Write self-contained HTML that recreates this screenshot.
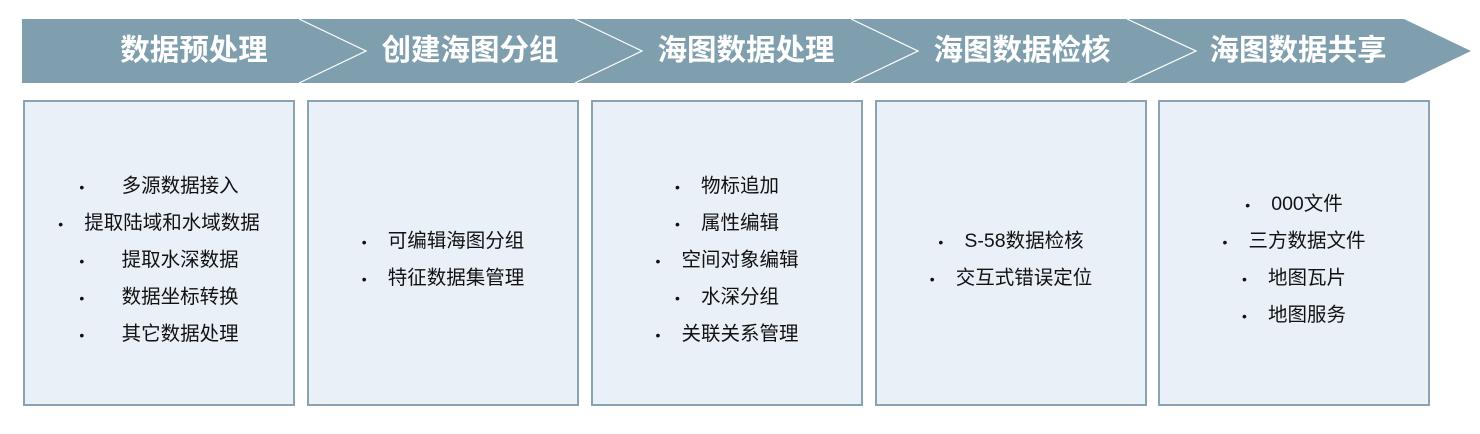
<!DOCTYPE html>
<html><head><meta charset="utf-8"><style>
body{margin:0;width:1480px;height:434px;background:#fff;position:relative;overflow:hidden;font-family:"Liberation Sans","Noto Sans CJK SC",sans-serif}
.t{position:absolute;top:29px;height:44px;line-height:44px;color:#fff;font-weight:bold;font-size:29.5px;text-align:center}
.b{position:absolute;top:100px;width:268px;border:2px solid #8aa3b3;background:#eaf0f8;display:flex;flex-direction:column;justify-content:center;align-items:center;box-sizing:content-box;padding-top:14px;height:288px}
.b div{font-size:19.5px;line-height:36px;color:#111;white-space:nowrap}
.b div:before{content:"•";display:inline-block;width:26px;font-size:14px;text-align:left}
</style></head><body>
<svg width="1480" height="100" style="position:absolute;left:0;top:0">
<polygon points="22,19 1404,19 1471,51 1404,83 22,83" fill="#7f9fae"/>
<g fill="none" stroke="#fff" stroke-width="1.2">
<polyline points="299,19 366,51 299,83"/>
<polyline points="575,19 642,51 575,83"/>
<polyline points="851,19 918,51 851,83"/>
<polyline points="1127,19 1196,51 1127,83"/>
</g></svg>
<div class="t" style="left:99px;width:190px">数据预处理</div>
<div class="t" style="left:375px;width:190px">创建海图分组</div>
<div class="t" style="left:651px;width:190px">海图数据处理</div>
<div class="t" style="left:927px;width:190px">海图数据检核</div>
<div class="t" style="left:1203px;width:190px">海图数据共享</div>
<div class="b" style="left:23px"><div>&nbsp;&nbsp;&nbsp;多源数据接入</div><div>提取陆域和水域数据</div><div>&nbsp;&nbsp;&nbsp;提取水深数据</div><div>&nbsp;&nbsp;&nbsp;数据坐标转换</div><div>&nbsp;&nbsp;&nbsp;其它数据处理</div></div>
<div class="b" style="left:307px"><div>可编辑海图分组</div><div>特征数据集管理</div></div>
<div class="b" style="left:591px"><div>物标追加</div><div>属性编辑</div><div>空间对象编辑</div><div>水深分组</div><div>关联关系管理</div></div>
<div class="b" style="left:875px"><div>S-58数据检核</div><div>交互式错误定位</div></div>
<div class="b" style="left:1158px"><div>000文件</div><div>三方数据文件</div><div>地图瓦片</div><div>地图服务</div></div>
</body></html>
